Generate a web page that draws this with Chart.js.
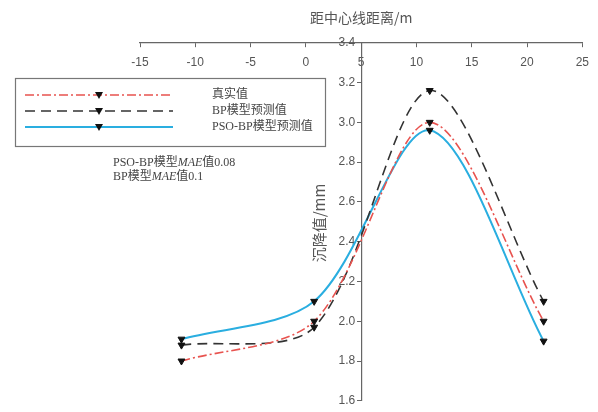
<!DOCTYPE html>
<html>
<head>
<meta charset="utf-8">
<script src="https://cdn.jsdelivr.net/npm/chart.js@4/dist/chart.umd.min.js"></script>
<style>
  html, body { margin: 0; padding: 0; background: #fff; }
  #wrap { width: 598px; height: 412px; position: relative; }
</style>
</head>
<body>
<div id="wrap"><canvas id="c"></canvas></div>
<script>
// --- data ---
const distances = [-11.25, 0.75, 11.2, 21.5];
const measured = [1.80, 2.00, 3.00, 2.00];
const bpPred = [1.88, 1.97, 3.16, 2.10];
const psoPred = [1.91, 2.10, 2.96, 1.90];
const xTicks = [-15, -10, -5, 0, 5, 10, 15, 20, 25];
const yTicks = [1.6, 1.8, 2.0, 2.2, 2.4, 2.6, 2.8, 3.0, 3.2, 3.4];
const seriesNames = ['真实值', 'BP模型预测值', 'PSO-BP模型预测值'];
const xTitle = '距中心线距离/m';
const yTitle = '沉降值/mm';
const noteLines = [['PSO-BP模型', 'MAE', '值0.08'], ['BP模型', 'MAE', '值0.1']];

const pts = (ys) => distances.map((x, i) => ({ x: x, y: ys[i] }));
const axisGray = '#666';
const textGray = '#555';

// legend box, y title and MAE note
const overlay = {
    id: 'overlay',
    afterDraw(chart) {
        const ctx = chart.ctx;
        ctx.save();
        // y axis title
        ctx.fillStyle = textGray;
        ctx.font = '15px "Noto Sans CJK SC", sans-serif';
        ctx.translate(319, 223);
        ctx.rotate(-Math.PI / 2);
        ctx.textAlign = 'center';
        ctx.textBaseline = 'middle';
        ctx.fillText(yTitle, 0, 0);
        ctx.restore();

        // legend
        ctx.save();
        ctx.strokeStyle = '#777';
        ctx.lineWidth = 1.2;
        ctx.strokeRect(15.5, 78.5, 310, 68);
        const rows = [95, 111, 127];
        chart.data.datasets.forEach((ds, i) => {
            const y = rows[i];
            ctx.beginPath();
            ctx.setLineDash(ds.borderDash || []);
            ctx.strokeStyle = ds.borderColor;
            ctx.lineWidth = ds.borderWidth;
            ctx.moveTo(25, y);
            ctx.lineTo(173, y);
            ctx.stroke();
            ctx.setLineDash([]);
            ctx.fillStyle = '#111';
            ctx.beginPath();
            ctx.moveTo(95, y - 3);
            ctx.lineTo(103, y - 3);
            ctx.lineTo(99, y + 4);
            ctx.closePath();
            ctx.fill();
            ctx.fillStyle = '#444';
            ctx.font = '12px "Liberation Serif", "Noto Sans CJK SC", serif';
            ctx.textBaseline = 'middle';
            ctx.fillText(seriesNames[i], 212, y);
        });

        // MAE note
        ctx.fillStyle = '#444';
        ctx.textBaseline = 'middle';
        noteLines.forEach((parts, i) => {
            let x = 113;
            const y = 163 + i * 14;
            parts.forEach((p, j) => {
                ctx.font = (j === 1 ? 'italic ' : '') + '12px "Liberation Serif", "Noto Sans CJK SC", serif';
                ctx.fillText(p, x, y);
                x += ctx.measureText(p).width;
            });
        });
        ctx.restore();
    }
};

// y labels sit on the axis line for an axis placed at a value; push them left a bit
function shiftYLabels(scale) {
    if (scale._shiftPatched) return;
    const orig = scale._computeLabelItems.bind(scale);
    scale._computeLabelItems = (area) => orig(area).map(it => {
        it.options.translation[0] -= 6;
        return it;
    });
    scale._shiftPatched = true;
}

const marker = { pointStyle: 'triangle', rotation: 180, pointRadius: 4, pointBackgroundColor: '#111', pointBorderColor: '#111', pointBorderWidth: 1 };

new Chart(document.getElementById('c'), {
    type: 'line',
    data: {
        datasets: [
            Object.assign({ label: seriesNames[0], data: pts(measured), borderColor: '#e8534f', borderWidth: 1.6, borderDash: [9, 3, 2, 3] }, marker),
            Object.assign({ label: seriesNames[1], data: pts(bpPred), borderColor: '#333', borderWidth: 1.6, borderDash: [10, 6] }, marker),
            Object.assign({ label: seriesNames[2], data: pts(psoPred), borderColor: '#2aaee0', borderWidth: 2 }, marker)
        ]
    },
    options: {
        responsive: true,
        maintainAspectRatio: false,
        animation: false,
        layout: { padding: { left: 140, right: 15, top: 0, bottom: 8 } },
        elements: { line: { tension: 0.3, fill: false } },
        plugins: {
            legend: { display: false },
            tooltip: { enabled: false },
            title: {
                display: true, text: xTitle, fullSize: false, color: textGray,
                font: { family: '"Noto Sans CJK SC", sans-serif', size: 14, weight: 'normal' },
                padding: { top: 9, bottom: 17 }
            }
        },
        scales: {
            x: {
                type: 'linear', min: -15, max: 25,
                position: { y: 3.4 },
                afterBuildTicks: (s) => { s.ticks = xTicks.map(v => ({ value: v })); },
                grid: { drawOnChartArea: false, drawTicks: true, tickLength: 4, color: axisGray },
                border: { color: axisGray, width: 1.2 },
                ticks: { color: textGray, padding: 9, font: { family: 'Liberation Sans', size: 12 } }
            },
            y: {
                type: 'linear', min: 1.6, max: 3.4,
                position: { x: 5 },
                afterBuildTicks: (s) => { s.ticks = yTicks.map(v => ({ value: v })); },
                afterUpdate: shiftYLabels,
                grid: { drawOnChartArea: false, drawTicks: true, tickLength: 4, color: axisGray },
                border: { color: axisGray, width: 1.2 },
                ticks: { color: textGray, padding: 4, font: { family: 'Liberation Sans', size: 12 }, callback: (v) => Number(v).toFixed(1) }
            }
        }
    },
    plugins: [overlay]
});
</script>
</body>
</html>
